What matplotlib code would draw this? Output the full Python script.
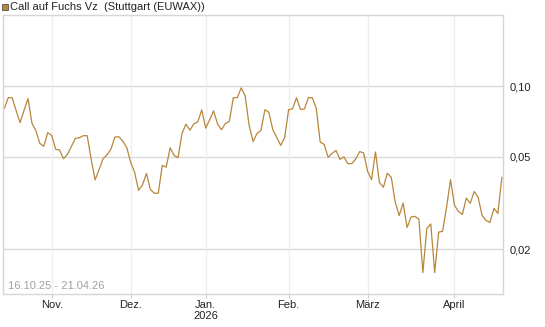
import pandas as pd
import matplotlib
matplotlib.use("Agg")
import matplotlib.pyplot as plt
from matplotlib.ticker import FixedLocator, NullLocator
from matplotlib.patches import Rectangle

plt.rcParams['font.family'] = ['Liberation Sans', 'DejaVu Sans']

title = "Call auf Fuchs Vz  (Stuttgart (EUWAX))"
period = "16.10.25 - 21.04.26"
holidays = ["2025-12-24", "2025-12-25", "2025-12-26", "2025-12-31",
            "2026-01-01", "2026-04-03", "2026-04-06"]

# one close per trading day, 16.10.25 .. 21.04.26
prices = [
    0.0805, 0.0894, 0.0893, 0.0786, 0.0699, 0.0788, 0.0886, 0.0695, 0.0645, 0.0569,
    0.0553, 0.0633, 0.0616, 0.0537, 0.0533, 0.0489, 0.0511, 0.0553, 0.0598, 0.0602,
    0.0614, 0.0614, 0.0486, 0.0397, 0.0439, 0.0489, 0.0508, 0.0537, 0.0606, 0.0608,
    0.0582, 0.0547, 0.0472, 0.0428, 0.0358, 0.0378, 0.0423, 0.0361, 0.0348, 0.0348,
    0.0458, 0.0450, 0.0545, 0.0506, 0.0494, 0.0628, 0.0688, 0.0649, 0.0690, 0.0704,
    0.0792, 0.0662, 0.0718, 0.0785, 0.0690, 0.0651, 0.0694, 0.0708, 0.0894, 0.0894,
    0.0985, 0.0908, 0.0680, 0.0580, 0.0628, 0.0647, 0.0794, 0.0773, 0.0651, 0.0604,
    0.0558, 0.0603, 0.0794, 0.0802, 0.0893, 0.0796, 0.0799, 0.0894, 0.0893, 0.0805,
    0.0576, 0.0564, 0.0496, 0.0516, 0.0531, 0.0486, 0.0498, 0.0466, 0.0466, 0.0488,
    0.0525, 0.0518, 0.0432, 0.0398, 0.0523, 0.0387, 0.0369, 0.0424, 0.0407, 0.0319,
    0.0279, 0.0316, 0.0248, 0.0275, 0.0277, 0.0269, 0.0159, 0.0246, 0.0257, 0.0159,
    0.0237, 0.0239, 0.0303, 0.0398, 0.0309, 0.0291, 0.0282, 0.0332, 0.0315, 0.0354,
    0.0334, 0.0279, 0.0266, 0.0261, 0.0300, 0.0285, 0.0407,
]

y_ticks = [0.02, 0.05, 0.10]
y_labels = ["0,02", "0,05", "0,10"]
month_names = {11: "Nov.", 12: "Dez.", 1: "Jan.\n2026", 2: "Feb.", 3: "März", 4: "April"}

bday = pd.offsets.CustomBusinessDay(holidays=holidays)
dates = pd.date_range("2025-10-16", "2026-04-21", freq=bday)
df = pd.DataFrame({"date": dates, "price": prices})
x = range(len(df))

# first trading day of each month
first = df.groupby([df.date.dt.year, df.date.dt.month]).head(1)
first = first[first.date.dt.month != 10]
month_pos = list(first.index)
month_lbl = [month_names[m] for m in first.date.dt.month]

fig = plt.figure(figsize=(5.45, 3.27), dpi=100)
ax = fig.add_axes([0.0055, 0.1024, 0.9175, 0.8516])

ax.plot(x, df.price, color="#b8863b", lw=0.9)

ax.set_yscale("log")
ax.set_ylim(0.01293, 0.2021)
ax.set_xlim(-0.33, 126.3)

ax.yaxis.set_major_locator(FixedLocator(y_ticks))
ax.yaxis.set_minor_locator(NullLocator())
ax.set_yticklabels(y_labels)
ax.yaxis.tick_right()
ax.tick_params(axis="y", length=0, pad=5, labelsize=8, colors="#222222")

ax.set_xticks(month_pos)
ax.set_xticklabels(month_lbl)
ax.tick_params(axis="x", length=3, color="#cccccc", pad=1.5, labelsize=8, labelcolor="#222222")

for t in y_ticks:
    ax.axhline(t, color="#d9d9d9", lw=1, zorder=0)
for p in month_pos:
    ax.axvline(p, color="#eeeeee", lw=1, zorder=0)

for s in ax.spines.values():
    s.set_color("#d6d6d6")
    s.set_linewidth(1)

ax.text(0.01, 0.008, period, transform=ax.transAxes, fontsize=8,
        color="#a0a0a0", ha="left", va="bottom")

fig.patches.append(Rectangle((2 / 545, 1 - 9.5 / 327), 6 / 545, 6 / 327,
                             transform=fig.transFigure, facecolor="#b8863b",
                             edgecolor="#555555", lw=0.6))
fig.text(10 / 545, 1 - 6.5 / 327, title, fontsize=8, color="#222222",
         ha="left", va="center")

fig.savefig("out.png", dpi=100)
